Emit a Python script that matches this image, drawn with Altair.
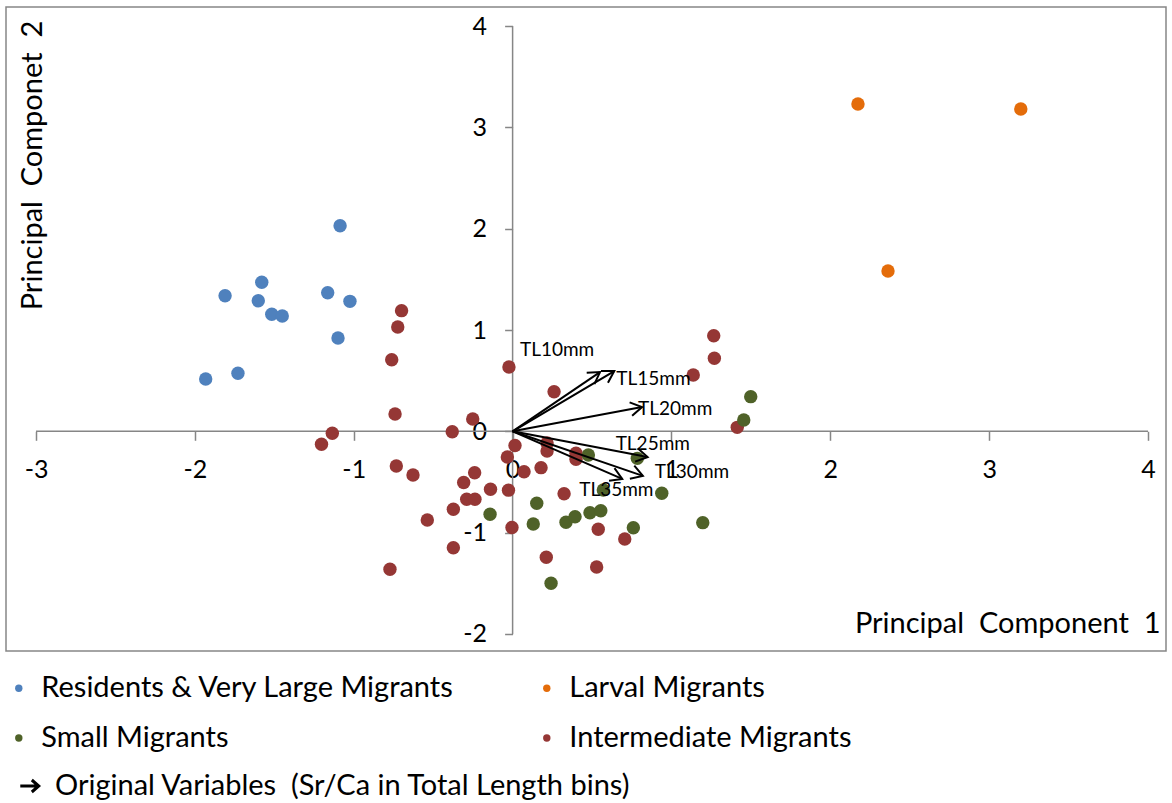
import altair as alt
import pandas as pd

# ---- PCA scores (PC1, PC2) for each group of fish ----
resident_pc1 = [-1.086, -1.579, -1.810, -1.601, -1.164, -1.024, -1.516, -1.450, -1.099, -1.729, -1.932]
resident_pc2 = [2.030, 1.471, 1.339, 1.289, 1.368, 1.283, 1.155, 1.138, 0.921, 0.573, 0.516]

larval_pc1 = [2.174, 3.199, 2.363]
larval_pc2 = [3.231, 3.182, 1.583]

intermediate_pc1 = [-0.699, -0.723, -0.761, -0.740, -1.135, -1.203, -0.380, -0.251, -0.023, 0.015,
                    -0.033, -0.732, -0.627, 0.072, -0.239, -0.308, -0.139, -0.026, -0.289, -0.237,
                    -0.373, -0.537, -0.004, -0.373, -0.772, 0.217, 0.217, 0.399, 0.399, 0.179,
                    0.324, 0.539, 0.706, 0.212, 0.529, 1.266, 1.270, 1.137, 1.414, 0.261]
intermediate_pc2 = [1.191, 1.030, 0.707, 0.171, -0.020, -0.128, -0.004, 0.121, 0.635, -0.140,
                    -0.254, -0.343, -0.431, -0.399, -0.409, -0.505, -0.572, -0.581, -0.671, -0.671,
                    -0.770, -0.876, -0.950, -1.149, -1.362, -0.115, -0.194, -0.217, -0.276, -0.359,
                    -0.616, -0.967, -1.063, -1.244, -1.340, 0.944, 0.721, 0.556, 0.039, 0.391]

small_pc1 = [0.477, 0.785, 0.571, 0.939, 0.152, -0.142, 0.130, 0.336, 0.393, 0.487,
             0.555, 0.760, 1.197, 0.242, 1.499, 1.455]
small_pc2 = [-0.234, -0.267, -0.579, -0.612, -0.711, -0.819, -0.915, -0.898, -0.843, -0.804,
             -0.784, -0.952, -0.902, -1.500, 0.342, 0.112]

# ---- loadings of the original variables (Sr/Ca in total length bins) ----
variables = ["TL10mm", "TL15mm", "TL20mm", "TL25mm", "TL30mm", "TL35mm"]
loading_pc1 = [0.55, 0.64, 0.815, 0.85, 0.82, 0.69]
loading_pc2 = [0.585, 0.595, 0.24, -0.254, -0.44, -0.47]

# legend entries fill column by column: left column first, then right column
groups = ["Residents & Very Large Migrants", "Small Migrants", "Larval Migrants", "Intermediate Migrants"]
group_colors = ["#4F81BD", "#4F6228", "#E46C0A", "#953735"]
arrow_legend_label = "Original Variables\u00a0 (Sr/Ca in Total Length bins)"

x_ticks = [-3, -2, -1, 0, 1, 2, 3, 4]
y_ticks = [-2, -1, 0, 1, 2, 3, 4]

# ---- layout ----
FONT = "Lato"
GRAY = "#868686"
W, H = 1160, 644
X_DOMAIN = [-3.189, 4.113]
Y_DOMAIN = [-2.169, 4.189]
PX_X = W / (X_DOMAIN[1] - X_DOMAIN[0])
PX_Y = H / (Y_DOMAIN[1] - Y_DOMAIN[0])
X_AXIS_OFFSET = -(0 - Y_DOMAIN[0]) * PX_Y      # x axis crosses at PC2 = 0
Y_AXIS_OFFSET = -(0 - X_DOMAIN[0]) * PX_X      # y axis crosses at PC1 = 0

# pixel offsets of each variable label from its arrow tip
label_offsets = {
    "TL10mm": (-80, -22), "TL15mm": (2, 8), "TL20mm": (-4, 2),
    "TL25mm": (-32, -13), "TL30mm": (12, -4), "TL35mm": (-43, 11),
}

# ---- tables ----
draw_order = [
    ("Residents & Very Large Migrants", resident_pc1, resident_pc2),
    ("Larval Migrants", larval_pc1, larval_pc2),
    ("Intermediate Migrants", intermediate_pc1, intermediate_pc2),
    ("Small Migrants", small_pc1, small_pc2),
]
scores = pd.concat(
    [pd.DataFrame({"group": g, "pc1": a, "pc2": b}) for g, a, b in draw_order],
    ignore_index=True,
)
scores["order"] = range(len(scores))

loadings = pd.DataFrame({"variable": variables, "pc1": loading_pc1, "pc2": loading_pc2})
loadings["kind"] = arrow_legend_label

axis_lines = pd.DataFrame({
    "pc1": [min(x_ticks), 0], "pc1_end": [max(x_ticks), 0],
    "pc2": [0, min(y_ticks)], "pc2_end": [0, max(y_ticks)],
})

x_scale = alt.Scale(domain=X_DOMAIN, nice=False, zero=False)
y_scale = alt.Scale(domain=Y_DOMAIN, nice=False, zero=False)

x_axis = alt.Axis(
    values=x_ticks, offset=X_AXIS_OFFSET, domain=False, grid=False,
    ticks=True, tickSize=9, tickWidth=1.5, tickColor=GRAY,
    labelFont=FONT, labelFontSize=25, labelColor="black", labelPadding=17,
    labelExpr="'' + datum.value", labelFlush=False, labelOverlap=False,
    title="Principal\u00a0 Component\u00a0 1", titleFont=FONT, titleFontSize=29,
    titleFontWeight="normal", titleColor="black",
    titleAlign="right", titleBaseline="middle", titleAnchor="end",
    titleX=1154, titleY=191.7,
)
y_axis = alt.Axis(
    values=y_ticks, offset=Y_AXIS_OFFSET, domain=False, grid=False,
    ticks=True, tickSize=8, tickWidth=1.5, tickColor=GRAY,
    labelFont=FONT, labelFontSize=25, labelColor="black", labelPadding=18,
    labelExpr="'' + datum.value", labelFlush=False, labelOverlap=False,
    title="Principal\u00a0 Componet\u00a0 2", titleFont=FONT, titleFontSize=29,
    titleFontWeight="normal", titleColor="black", titleAngle=270,
    titleAlign="center", titleBaseline="middle",
    titleX=-480.6, titleY=158,
)

X = lambda f="pc1": alt.X(f"{f}:Q", scale=x_scale, axis=x_axis)
Y = lambda f="pc2": alt.Y(f"{f}:Q", scale=y_scale, axis=y_axis)

base_axes = alt.Chart(axis_lines).mark_rule(color=GRAY, strokeWidth=1.5).encode(
    x=X(), x2="pc1_end:Q", y=Y(), y2="pc2_end:Q"
)

points = alt.Chart(scores).mark_circle(size=180, opacity=1).encode(
    x=X(), y=Y(),
    color=alt.Color(
        "group:N",
        scale=alt.Scale(domain=groups, range=group_colors),
        legend=alt.Legend(
            orient="none", legendX=-1.7, legendY=666.5, columns=2, title=None,
            labelFont=FONT, labelFontSize=29, labelColor="black", labelLimit=800,
            symbolType="circle", symbolSize=55, symbolStrokeWidth=0, symbolOpacity=1,
            labelOffset=8, rowPadding=20, columnPadding=77, padding=0,
        ),
    ),
    order="order:Q",
)

arrows = alt.Chart(loadings).mark_rule(strokeWidth=2).transform_calculate(
    ox="0", oy="0"
).encode(
    x=X("ox"), y=Y("oy"), x2="pc1:Q", y2="pc2:Q",
    color=alt.Color(
        "kind:N",
        scale=alt.Scale(domain=[arrow_legend_label], range=["black"]),
        legend=alt.Legend(
            orient="none", legendX=9, legendY=764.5, title=None,
            labelFont=FONT, labelFontSize=29, labelColor="black", labelLimit=800,
            symbolType="M-1,0L1,0M0.25,-0.65L1,0L0.25,0.65", symbolSize=340,
            symbolStrokeWidth=3, symbolStrokeColor="black", symbolFillColor="transparent",
            labelOffset=11, padding=0,
        ),
    ),
)

heads = alt.Chart(loadings).mark_point(
    shape="M-1,-0.6L0,0L-1,0.6", filled=False, color="black", strokeWidth=2, size=520, opacity=1
).transform_calculate(
    ang=f"(atan2(-datum.pc2 * {PX_Y}, datum.pc1 * {PX_X}) * 180 / PI + 360) % 360"
).encode(
    x=X(), y=Y(), angle=alt.Angle("ang:Q", scale=None)
)

labels = []
for v in variables:
    dx, dy = label_offsets[v]
    labels.append(
        alt.Chart(loadings).transform_filter(alt.datum.variable == v)
        .mark_text(align="left", baseline="middle", dx=dx, dy=dy,
                   font=FONT, fontSize=19, color="black")
        .encode(x=X(), y=Y(), text="variable:N")
    )

chart = alt.layer(base_axes, points, arrows, heads, *labels).resolve_scale(
    color="independent"
).properties(
    width=W, height=H,
    padding={"left": 6, "top": 7, "right": 6, "bottom": 152},
    autosize=alt.AutoSizeParams(type="none"),
    background="white",
).configure_view(stroke=GRAY, strokeWidth=1.5)

chart.save("out.html", embed_options={"renderer": "svg", "actions": False})
